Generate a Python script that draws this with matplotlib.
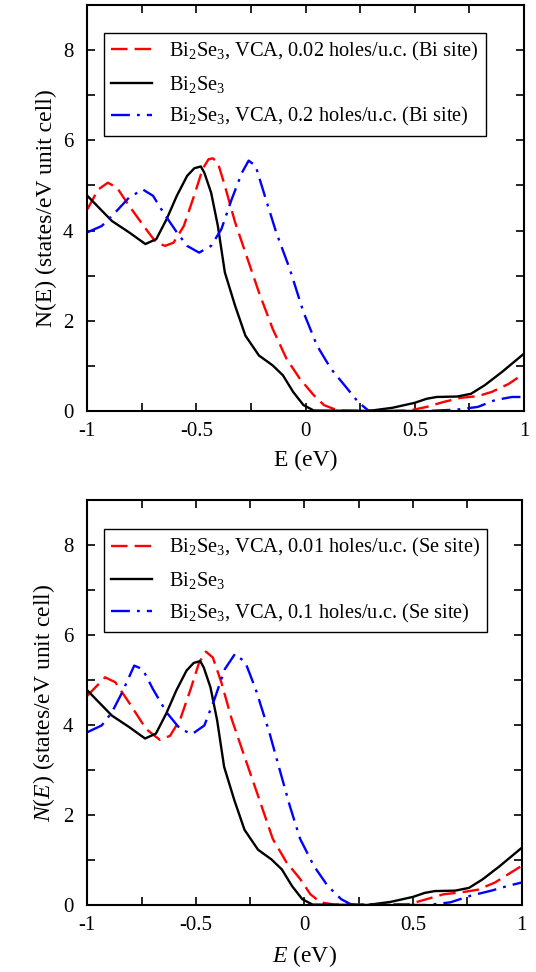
import matplotlib
matplotlib.use('Agg')
import matplotlib.pyplot as plt
from matplotlib.ticker import MultipleLocator

plt.rcParams['font.family'] = ['Liberation Serif', 'DejaVu Serif']
plt.rcParams['mathtext.fontset'] = 'custom'
plt.rcParams['mathtext.rm'] = 'Liberation Serif'
plt.rcParams['mathtext.it'] = 'Liberation Serif:italic'

# pristine Bi2Se3 (same in both panels)
e_pure = [-1.0, -0.887, -0.809, -0.734, -0.684, -0.637, -0.59, -0.543, -0.51, -0.48, -0.464,
          -0.433, -0.402, -0.37, -0.323, -0.276, -0.214, -0.151, -0.104, -0.057, -0.01,
          0.037, 0.287, 0.397, 0.499, 0.554, 0.6, 0.694, 0.757, 0.82, 0.898, 1.0]
n_pure = [4.77, 4.21, 3.96, 3.70, 3.81, 4.25, 4.77, 5.21, 5.38, 5.42, 5.28,
          4.84, 4.10, 3.07, 2.33, 1.67, 1.23, 1.01, 0.79, 0.42, 0.13,
          0.01, 0.0, 0.07, 0.18, 0.27, 0.31, 0.32, 0.38, 0.57, 0.86, 1.27]

# top panel: Bi-site holes
e_bi002 = [-1.0, -0.95, -0.906, -0.864, -0.809, -0.731, -0.684, -0.644, -0.605, -0.558,
           -0.511, -0.472, -0.445, -0.425, -0.402, -0.37, -0.323, -0.276, -0.214, -0.151, -0.088,
           -0.026, 0.037, 0.084, 0.147, 0.319, 0.476, 0.554, 0.632, 0.71, 0.789, 0.851,
           0.93, 1.0]
n_bi002 = [4.47, 4.91, 5.06, 4.95, 4.55, 4.03, 3.73, 3.66, 3.73, 4.10,
           4.77, 5.36, 5.58, 5.60, 5.50, 4.99, 4.18, 3.51, 2.63, 1.82, 1.16,
           0.71, 0.35, 0.13, 0.01, 0.0, 0.01, 0.09, 0.20, 0.29, 0.33, 0.42,
           0.60, 0.83]
e_bi02 = [-1.0, -0.934, -0.872, -0.809, -0.746, -0.699, -0.652, -0.59, -0.543, -0.488,
          -0.433, -0.386, -0.339, -0.292, -0.261, -0.229, -0.182, -0.135, -0.073, -0.01,
          0.052, 0.115, 0.178, 0.24, 0.287, 0.319, 0.554, 0.694, 0.789, 0.867, 0.945, 1.0]
n_bi02 = [3.96, 4.10, 4.40, 4.73, 4.91, 4.77, 4.40, 3.96, 3.66, 3.51,
          3.66, 4.03, 4.69, 5.28, 5.55, 5.43, 4.69, 3.96, 3.15, 2.19,
          1.45, 0.94, 0.57, 0.20, 0.01, 0.0, 0.0, 0.03, 0.09, 0.24, 0.31, 0.31]

# bottom panel: Se-site holes
e_se001 = [-1.0, -0.918, -0.871, -0.808, -0.729, -0.666, -0.619, -0.572, -0.524, -0.485,
           -0.454, -0.422, -0.383, -0.335, -0.272, -0.209, -0.146, -0.083, -0.02, 0.027,
           0.074, 0.137, 0.483, 0.562, 0.641, 0.72, 0.798, 0.877, 1.0]
n_se001 = [4.65, 5.06, 4.95, 4.50, 3.91, 3.67, 3.76, 4.13, 4.80, 5.39,
           5.63, 5.50, 4.95, 4.13, 3.24, 2.36, 1.47, 0.95, 0.58, 0.24,
           0.06, 0.01, 0.02, 0.13, 0.24, 0.28, 0.34, 0.50, 0.87]
e_se01 = [-1.0, -0.934, -0.887, -0.839, -0.784, -0.745, -0.698, -0.635, -0.572, -0.517,
          -0.461, -0.414, -0.367, -0.32, -0.272, -0.225, -0.162, -0.115, -0.068, -0.02,
          0.043, 0.106, 0.169, 0.216, 0.562, 0.672, 0.767, 0.861, 0.94, 1.0]
n_se01 = [3.84, 3.99, 4.28, 4.73, 5.32, 5.24, 4.80, 4.28, 3.91, 3.80,
          3.99, 4.58, 5.24, 5.58, 5.39, 4.80, 3.84, 3.02, 2.21, 1.47,
          0.87, 0.43, 0.13, 0.01, 0.0, 0.06, 0.21, 0.32, 0.43, 0.50]

lab_pure = 'Bi$_2$Se$_3$'
labels_top = ['Bi$_2$Se$_3$, VCA, 0.02 holes/u.c. (Bi site)',
              'Bi$_2$Se$_3$, VCA, 0.2 holes/u.c. (Bi site)']
labels_bot = ['Bi$_2$Se$_3$, VCA, 0.01 holes/u.c. (Se site)',
              'Bi$_2$Se$_3$, VCA, 0.1 holes/u.c. (Se site)']

fig = plt.figure(figsize=(5.36, 9.72), dpi=100)
ax1 = fig.add_axes([0.1629, 0.5772, 0.8147, 0.4177])
ax2 = fig.add_axes([0.1629, 0.0689, 0.8103, 0.4167])

lw = 1.7
panels = [
    (ax1, e_bi002, n_bi002, e_bi02, n_bi02, labels_top, 'N(E) (states/eV unit cell)', 'E (eV)', 0.931),
    (ax2, e_se001, n_se001, e_se01, n_se01, labels_bot, '$N(E)$ (states/eV unit cell)', '$E$ (eV)', 0.928),
]
for ax, e_r, n_r, e_b, n_b, labs, ylab, xlab, ly in panels:
    ax.plot(e_r, n_r, color='red', lw=lw, dashes=(7, 3), label=labs[0])
    ax.plot(e_pure, n_pure, color='black', lw=lw, label=lab_pure)
    ax.plot(e_b, n_b, color='blue', lw=lw, dashes=(8, 3, 1.2, 3), label=labs[1])
    ax.set_xlim(-1, 1)
    ax.set_ylim(0, 9)
    ax.xaxis.set_minor_locator(MultipleLocator(0.25))
    ax.yaxis.set_major_locator(MultipleLocator(2))
    ax.yaxis.set_minor_locator(MultipleLocator(1))
    ax.set_xticks([-1, -0.5, 0, 0.5, 1])
    ax.set_xticklabels(['-1', '-0.5', '0', '0.5', '1'])
    ax.tick_params(which='both', direction='in', top=True, right=True,
                   length=6, width=1.2, labelsize=15)
    ax.tick_params(axis='x', pad=8)
    ax.tick_params(axis='y', pad=10)
    for s in ax.spines.values():
        s.set_linewidth(1.5)
    ax.set_ylabel(ylab, fontsize=17, labelpad=4)
    ax.set_xlabel(xlab, fontsize=17, labelpad=6)
    leg = ax.legend(loc='upper left', bbox_to_anchor=(0.039, ly), borderaxespad=0,
                    fontsize=14.7, frameon=True, fancybox=False, edgecolor='black',
                    framealpha=1, handlelength=2.0, handletextpad=0.8,
                    labelspacing=0.52, borderpad=0.35)
    leg.get_frame().set_linewidth(1.0)

fig.savefig('out.png', dpi=100)
